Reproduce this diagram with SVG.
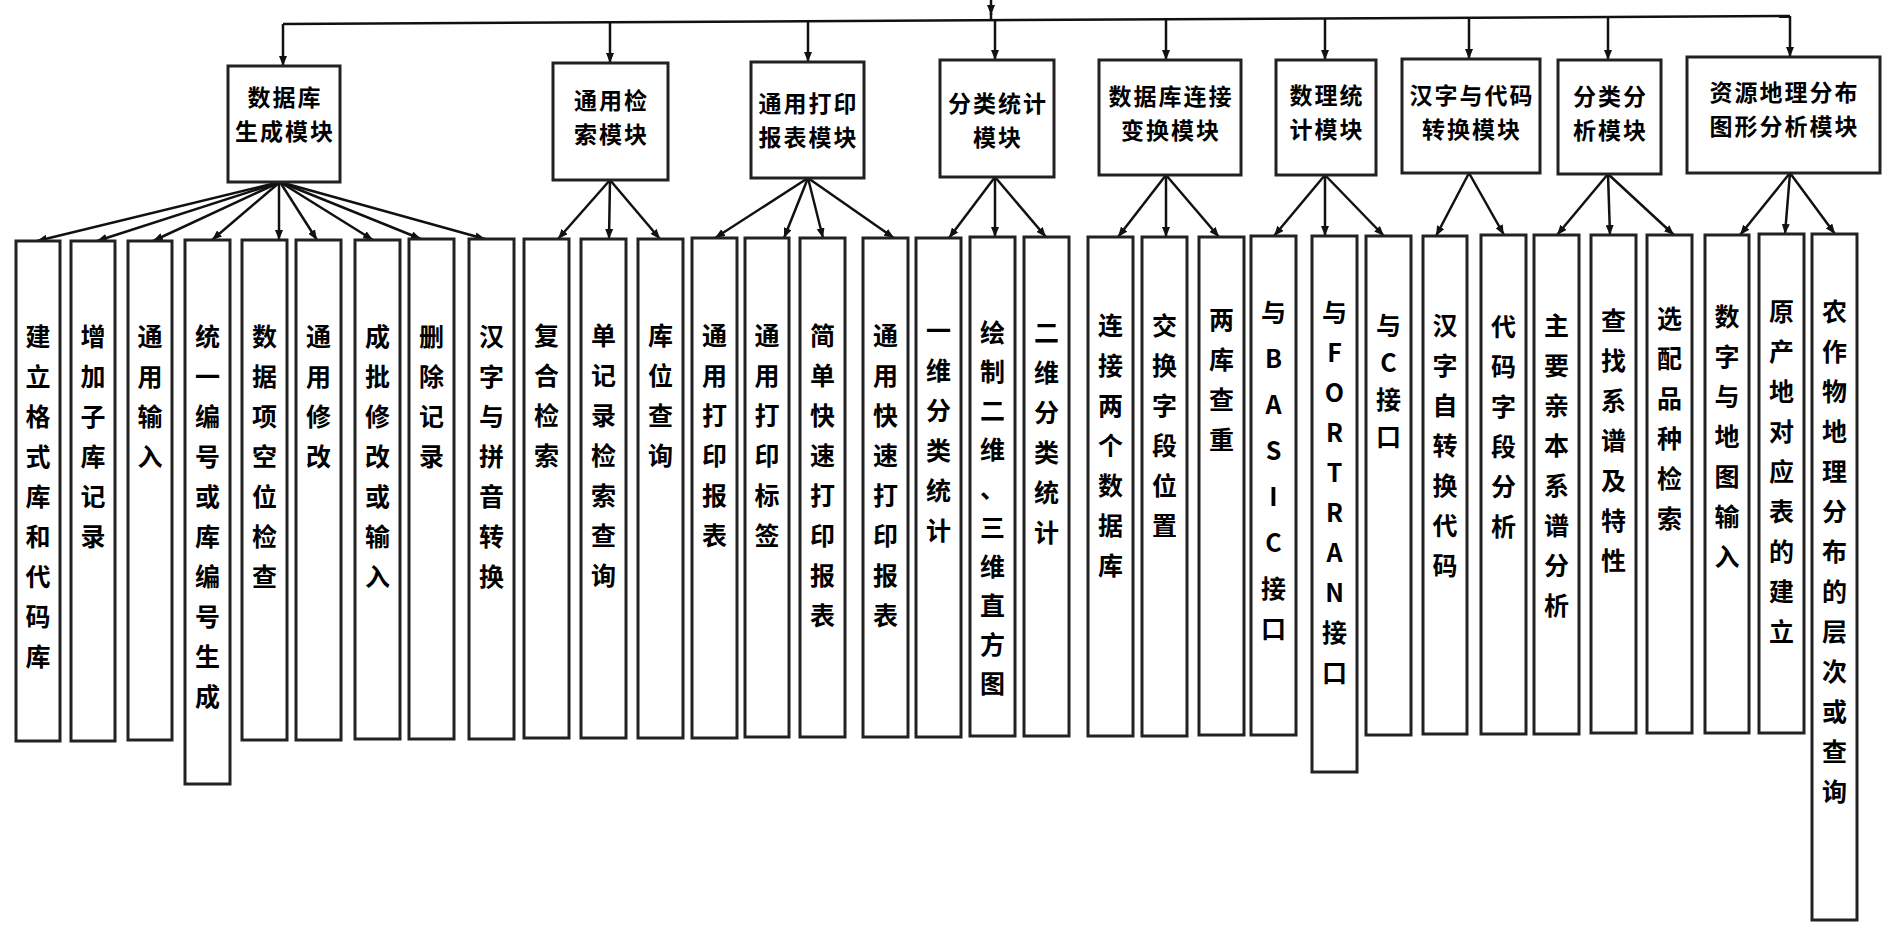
<svg xmlns="http://www.w3.org/2000/svg" width="1892" height="936" viewBox="0 0 1892 936">
<style>
.bg{fill:#fff}
.box{fill:#fff;stroke:#222;stroke-width:3}
.ln{stroke:#111;stroke-width:2.5;fill:none}
.ar{stroke:#111;stroke-width:2.5;fill:none;marker-end:url(#ah)}
.mt{font-family:"Noto Sans CJK SC","Noto Sans CJK JP",sans-serif;font-size:23px;font-weight:700;letter-spacing:2px;text-anchor:middle;fill:#000}
.lf{font-family:"Noto Sans CJK SC","Noto Sans CJK JP",sans-serif;font-size:25px;font-weight:700;text-anchor:middle;fill:#000}
</style>
<defs>
<marker id="ah" viewBox="0 0 10 8" refX="10" refY="4" markerWidth="10" markerHeight="8" orient="auto" markerUnits="userSpaceOnUse"><path d="M0,0 L10,4 L0,8 z" fill="#111"/></marker>
</defs>
<rect class="bg" x="0" y="0" width="1892" height="936"/>
<g id="connectors">
<path class="ar" d="M991,0 L991,15"/>
<path class="ln" d="M991,13 L991,21"/>
<path class="ln" d="M283,24 L1790,16"/>
<path class="ar" d="M283,24 L283,66"/>
<path class="ar" d="M610,22 L610,63"/>
<path class="ar" d="M808,21 L808,62"/>
<path class="ar" d="M995,20 L995,60"/>
<path class="ar" d="M1166,19 L1166,60"/>
<path class="ar" d="M1325,18 L1325,60"/>
<path class="ar" d="M1469,18 L1469,59"/>
<path class="ar" d="M1608,17 L1608,60"/>
<path class="ar" d="M1790,16 L1790,57"/>
<path class="ar" d="M280,182 L37,241"/>
<path class="ar" d="M280,182 L97,241"/>
<path class="ar" d="M280,182 L153,241"/>
<path class="ar" d="M280,182 L212,240"/>
<path class="ar" d="M279,182 L279,240"/>
<path class="ar" d="M280,182 L317,240"/>
<path class="ar" d="M280,182 L373,240"/>
<path class="ar" d="M280,182 L421,239"/>
<path class="ar" d="M280,182 L485,239"/>
<path class="ar" d="M610,180 L558,239"/>
<path class="ar" d="M610,180 L609,239"/>
<path class="ar" d="M610,180 L660,239"/>
<path class="ar" d="M808,178 L715,238"/>
<path class="ar" d="M808,178 L784,238"/>
<path class="ar" d="M808,178 L823,238"/>
<path class="ar" d="M808,178 L894,238"/>
<path class="ar" d="M995,177 L949,238"/>
<path class="ar" d="M995,177 L995,237"/>
<path class="ar" d="M995,177 L1046,237"/>
<path class="ar" d="M1166,175 L1118,237"/>
<path class="ar" d="M1166,175 L1166,237"/>
<path class="ar" d="M1166,175 L1219,237"/>
<path class="ar" d="M1325,175 L1274,236"/>
<path class="ar" d="M1325,175 L1325,236"/>
<path class="ar" d="M1325,175 L1384,236"/>
<path class="ar" d="M1469,173 L1436,236"/>
<path class="ar" d="M1469,173 L1504,235"/>
<path class="ar" d="M1608,174 L1557,235"/>
<path class="ar" d="M1608,174 L1610,235"/>
<path class="ar" d="M1608,174 L1674,235"/>
<path class="ar" d="M1790,173 L1740,235"/>
<path class="ar" d="M1790,173 L1785,234"/>
<path class="ar" d="M1790,173 L1835,234"/>
</g>
<g id="m1"><rect class="box" x="228" y="66" width="112" height="116"/><text class="mt" x="285" y="106"><tspan x="285">数据库</tspan><tspan x="285" dy="34">生成模块</tspan></text></g>
<g id="m2"><rect class="box" x="553" y="63" width="115" height="117"/><text class="mt" x="611.5" y="109"><tspan x="611.5">通用检</tspan><tspan x="611.5" dy="34">索模块</tspan></text></g>
<g id="m3"><rect class="box" x="751" y="62" width="113" height="116"/><text class="mt" x="808.5" y="112"><tspan x="808.5">通用打印</tspan><tspan x="808.5" dy="34">报表模块</tspan></text></g>
<g id="m4"><rect class="box" x="940" y="60" width="114" height="117"/><text class="mt" x="998" y="112"><tspan x="998">分类统计</tspan><tspan x="998" dy="34">模块</tspan></text></g>
<g id="m5"><rect class="box" x="1099" y="60" width="142" height="115"/><text class="mt" x="1171" y="105"><tspan x="1171">数据库连接</tspan><tspan x="1171" dy="34">变换模块</tspan></text></g>
<g id="m6"><rect class="box" x="1276" y="60" width="100" height="115"/><text class="mt" x="1327" y="104"><tspan x="1327">数理统</tspan><tspan x="1327" dy="34">计模块</tspan></text></g>
<g id="m7"><rect class="box" x="1402" y="59" width="138" height="114"/><text class="mt" x="1472" y="104"><tspan x="1472">汉字与代码</tspan><tspan x="1472" dy="34">转换模块</tspan></text></g>
<g id="m8"><rect class="box" x="1558" y="60" width="103" height="114"/><text class="mt" x="1610.5" y="105"><tspan x="1610.5">分类分</tspan><tspan x="1610.5" dy="34">析模块</tspan></text></g>
<g id="m9"><rect class="box" x="1687" y="57" width="193" height="116"/><text class="mt" x="1784.5" y="101"><tspan x="1784.5">资源地理分布</tspan><tspan x="1784.5" dy="34">图形分析模块</tspan></text></g>
<g id="l1"><rect class="box" x="16" y="241" width="44" height="500"/><text class="lf" x="38" y="346"><tspan x="38">建</tspan><tspan x="38" dy="40">立</tspan><tspan x="38" dy="40">格</tspan><tspan x="38" dy="40">式</tspan><tspan x="38" dy="40">库</tspan><tspan x="38" dy="40">和</tspan><tspan x="38" dy="40">代</tspan><tspan x="38" dy="40">码</tspan><tspan x="38" dy="40">库</tspan></text></g>
<g id="l2"><rect class="box" x="71" y="241" width="44" height="500"/><text class="lf" x="93" y="346"><tspan x="93">增</tspan><tspan x="93" dy="40">加</tspan><tspan x="93" dy="40">子</tspan><tspan x="93" dy="40">库</tspan><tspan x="93" dy="40">记</tspan><tspan x="93" dy="40">录</tspan></text></g>
<g id="l3"><rect class="box" x="128" y="241" width="44" height="499"/><text class="lf" x="150" y="346"><tspan x="150">通</tspan><tspan x="150" dy="40">用</tspan><tspan x="150" dy="40">输</tspan><tspan x="150" dy="40">入</tspan></text></g>
<g id="l4"><rect class="box" x="185" y="240" width="45" height="544"/><text class="lf" x="207.5" y="346"><tspan x="207.5">统</tspan><tspan x="207.5" dy="40">一</tspan><tspan x="207.5" dy="40">编</tspan><tspan x="207.5" dy="40">号</tspan><tspan x="207.5" dy="40">或</tspan><tspan x="207.5" dy="40">库</tspan><tspan x="207.5" dy="40">编</tspan><tspan x="207.5" dy="40">号</tspan><tspan x="207.5" dy="40">生</tspan><tspan x="207.5" dy="40">成</tspan></text></g>
<g id="l5"><rect class="box" x="242" y="240" width="45" height="500"/><text class="lf" x="264.5" y="346"><tspan x="264.5">数</tspan><tspan x="264.5" dy="40">据</tspan><tspan x="264.5" dy="40">项</tspan><tspan x="264.5" dy="40">空</tspan><tspan x="264.5" dy="40">位</tspan><tspan x="264.5" dy="40">检</tspan><tspan x="264.5" dy="40">查</tspan></text></g>
<g id="l6"><rect class="box" x="296" y="240" width="45" height="500"/><text class="lf" x="318.5" y="346"><tspan x="318.5">通</tspan><tspan x="318.5" dy="40">用</tspan><tspan x="318.5" dy="40">修</tspan><tspan x="318.5" dy="40">改</tspan></text></g>
<g id="l7"><rect class="box" x="355" y="240" width="45" height="499"/><text class="lf" x="377.5" y="346"><tspan x="377.5">成</tspan><tspan x="377.5" dy="40">批</tspan><tspan x="377.5" dy="40">修</tspan><tspan x="377.5" dy="40">改</tspan><tspan x="377.5" dy="40">或</tspan><tspan x="377.5" dy="40">输</tspan><tspan x="377.5" dy="40">入</tspan></text></g>
<g id="l8"><rect class="box" x="409" y="239" width="45" height="500"/><text class="lf" x="431.5" y="346"><tspan x="431.5">删</tspan><tspan x="431.5" dy="40">除</tspan><tspan x="431.5" dy="40">记</tspan><tspan x="431.5" dy="40">录</tspan></text></g>
<g id="l9"><rect class="box" x="469" y="239" width="45" height="500"/><text class="lf" x="491.5" y="346"><tspan x="491.5">汉</tspan><tspan x="491.5" dy="40">字</tspan><tspan x="491.5" dy="40">与</tspan><tspan x="491.5" dy="40">拼</tspan><tspan x="491.5" dy="40">音</tspan><tspan x="491.5" dy="40">转</tspan><tspan x="491.5" dy="40">换</tspan></text></g>
<g id="l10"><rect class="box" x="524" y="239" width="45" height="499"/><text class="lf" x="546.5" y="345"><tspan x="546.5">复</tspan><tspan x="546.5" dy="40">合</tspan><tspan x="546.5" dy="40">检</tspan><tspan x="546.5" dy="40">索</tspan></text></g>
<g id="l11"><rect class="box" x="581" y="239" width="45" height="499"/><text class="lf" x="603.5" y="345"><tspan x="603.5">单</tspan><tspan x="603.5" dy="40">记</tspan><tspan x="603.5" dy="40">录</tspan><tspan x="603.5" dy="40">检</tspan><tspan x="603.5" dy="40">索</tspan><tspan x="603.5" dy="40">查</tspan><tspan x="603.5" dy="40">询</tspan></text></g>
<g id="l12"><rect class="box" x="638" y="239" width="45" height="499"/><text class="lf" x="660.5" y="345"><tspan x="660.5">库</tspan><tspan x="660.5" dy="40">位</tspan><tspan x="660.5" dy="40">查</tspan><tspan x="660.5" dy="40">询</tspan></text></g>
<g id="l13"><rect class="box" x="692" y="238" width="45" height="500"/><text class="lf" x="714.5" y="345"><tspan x="714.5">通</tspan><tspan x="714.5" dy="40">用</tspan><tspan x="714.5" dy="40">打</tspan><tspan x="714.5" dy="40">印</tspan><tspan x="714.5" dy="40">报</tspan><tspan x="714.5" dy="40">表</tspan></text></g>
<g id="l14"><rect class="box" x="745" y="238" width="44" height="499"/><text class="lf" x="767" y="345"><tspan x="767">通</tspan><tspan x="767" dy="40">用</tspan><tspan x="767" dy="40">打</tspan><tspan x="767" dy="40">印</tspan><tspan x="767" dy="40">标</tspan><tspan x="767" dy="40">签</tspan></text></g>
<g id="l15"><rect class="box" x="800" y="238" width="45" height="499"/><text class="lf" x="822.5" y="345"><tspan x="822.5">简</tspan><tspan x="822.5" dy="40">单</tspan><tspan x="822.5" dy="40">快</tspan><tspan x="822.5" dy="40">速</tspan><tspan x="822.5" dy="40">打</tspan><tspan x="822.5" dy="40">印</tspan><tspan x="822.5" dy="40">报</tspan><tspan x="822.5" dy="40">表</tspan></text></g>
<g id="l16"><rect class="box" x="863" y="238" width="45" height="499"/><text class="lf" x="885.5" y="345"><tspan x="885.5">通</tspan><tspan x="885.5" dy="40">用</tspan><tspan x="885.5" dy="40">快</tspan><tspan x="885.5" dy="40">速</tspan><tspan x="885.5" dy="40">打</tspan><tspan x="885.5" dy="40">印</tspan><tspan x="885.5" dy="40">报</tspan><tspan x="885.5" dy="40">表</tspan></text></g>
<g id="l17"><rect class="box" x="916" y="238" width="45" height="499"/><text class="lf" x="938.5" y="340"><tspan x="938.5">一</tspan><tspan x="938.5" dy="40">维</tspan><tspan x="938.5" dy="40">分</tspan><tspan x="938.5" dy="40">类</tspan><tspan x="938.5" dy="40">统</tspan><tspan x="938.5" dy="40">计</tspan></text></g>
<g id="l18"><rect class="box" x="970" y="237" width="45" height="499"/><text class="lf" x="992.5" y="342"><tspan x="992.5">绘</tspan><tspan x="992.5" dy="39">制</tspan><tspan x="992.5" dy="39">二</tspan><tspan x="992.5" dy="39">维</tspan><tspan x="992.5" dy="39">、</tspan><tspan x="992.5" dy="39">三</tspan><tspan x="992.5" dy="39">维</tspan><tspan x="992.5" dy="39">直</tspan><tspan x="992.5" dy="39">方</tspan><tspan x="992.5" dy="39">图</tspan></text></g>
<g id="l19"><rect class="box" x="1024" y="237" width="45" height="499"/><text class="lf" x="1046.5" y="342"><tspan x="1046.5">二</tspan><tspan x="1046.5" dy="40">维</tspan><tspan x="1046.5" dy="40">分</tspan><tspan x="1046.5" dy="40">类</tspan><tspan x="1046.5" dy="40">统</tspan><tspan x="1046.5" dy="40">计</tspan></text></g>
<g id="l20"><rect class="box" x="1088" y="237" width="45" height="499"/><text class="lf" x="1110.5" y="335"><tspan x="1110.5">连</tspan><tspan x="1110.5" dy="40">接</tspan><tspan x="1110.5" dy="40">两</tspan><tspan x="1110.5" dy="40">个</tspan><tspan x="1110.5" dy="40">数</tspan><tspan x="1110.5" dy="40">据</tspan><tspan x="1110.5" dy="40">库</tspan></text></g>
<g id="l21"><rect class="box" x="1142" y="237" width="45" height="499"/><text class="lf" x="1164.5" y="335"><tspan x="1164.5">交</tspan><tspan x="1164.5" dy="40">换</tspan><tspan x="1164.5" dy="40">字</tspan><tspan x="1164.5" dy="40">段</tspan><tspan x="1164.5" dy="40">位</tspan><tspan x="1164.5" dy="40">置</tspan></text></g>
<g id="l22"><rect class="box" x="1199" y="237" width="45" height="498"/><text class="lf" x="1221.5" y="329"><tspan x="1221.5">两</tspan><tspan x="1221.5" dy="40">库</tspan><tspan x="1221.5" dy="40">查</tspan><tspan x="1221.5" dy="40">重</tspan></text></g>
<g id="l23"><rect class="box" x="1251" y="236" width="45" height="499"/><text class="lf" x="1273.5" y="322"><tspan x="1273.5">与</tspan><tspan x="1273.5" dy="46">B</tspan><tspan x="1273.5" dy="46">A</tspan><tspan x="1273.5" dy="46">S</tspan><tspan x="1273.5" dy="46">I</tspan><tspan x="1273.5" dy="46">C</tspan><tspan x="1273.5" dy="46">接</tspan><tspan x="1273.5" dy="40">口</tspan></text></g>
<g id="l24"><rect class="box" x="1312" y="236" width="45" height="536"/><text class="lf" x="1334.5" y="322"><tspan x="1334.5">与</tspan><tspan x="1334.5" dy="40">F</tspan><tspan x="1334.5" dy="40">O</tspan><tspan x="1334.5" dy="40">R</tspan><tspan x="1334.5" dy="40">T</tspan><tspan x="1334.5" dy="40">R</tspan><tspan x="1334.5" dy="40">A</tspan><tspan x="1334.5" dy="40">N</tspan><tspan x="1334.5" dy="40">接</tspan><tspan x="1334.5" dy="40">口</tspan></text></g>
<g id="l25"><rect class="box" x="1366" y="236" width="45" height="499"/><text class="lf" x="1388.5" y="335"><tspan x="1388.5">与</tspan><tspan x="1388.5" dy="37">C</tspan><tspan x="1388.5" dy="37">接</tspan><tspan x="1388.5" dy="37">口</tspan></text></g>
<g id="l26"><rect class="box" x="1423" y="236" width="44" height="498"/><text class="lf" x="1445" y="335"><tspan x="1445">汉</tspan><tspan x="1445" dy="40">字</tspan><tspan x="1445" dy="40">自</tspan><tspan x="1445" dy="40">转</tspan><tspan x="1445" dy="40">换</tspan><tspan x="1445" dy="40">代</tspan><tspan x="1445" dy="40">码</tspan></text></g>
<g id="l27"><rect class="box" x="1481" y="235" width="45" height="499"/><text class="lf" x="1503.5" y="336"><tspan x="1503.5">代</tspan><tspan x="1503.5" dy="40">码</tspan><tspan x="1503.5" dy="40">字</tspan><tspan x="1503.5" dy="40">段</tspan><tspan x="1503.5" dy="40">分</tspan><tspan x="1503.5" dy="40">析</tspan></text></g>
<g id="l28"><rect class="box" x="1534" y="235" width="45" height="499"/><text class="lf" x="1556.5" y="335"><tspan x="1556.5">主</tspan><tspan x="1556.5" dy="40">要</tspan><tspan x="1556.5" dy="40">亲</tspan><tspan x="1556.5" dy="40">本</tspan><tspan x="1556.5" dy="40">系</tspan><tspan x="1556.5" dy="40">谱</tspan><tspan x="1556.5" dy="40">分</tspan><tspan x="1556.5" dy="40">析</tspan></text></g>
<g id="l29"><rect class="box" x="1591" y="235" width="45" height="498"/><text class="lf" x="1613.5" y="330"><tspan x="1613.5">查</tspan><tspan x="1613.5" dy="40">找</tspan><tspan x="1613.5" dy="40">系</tspan><tspan x="1613.5" dy="40">谱</tspan><tspan x="1613.5" dy="40">及</tspan><tspan x="1613.5" dy="40">特</tspan><tspan x="1613.5" dy="40">性</tspan></text></g>
<g id="l30"><rect class="box" x="1647" y="235" width="45" height="498"/><text class="lf" x="1669.5" y="328"><tspan x="1669.5">选</tspan><tspan x="1669.5" dy="40">配</tspan><tspan x="1669.5" dy="40">品</tspan><tspan x="1669.5" dy="40">种</tspan><tspan x="1669.5" dy="40">检</tspan><tspan x="1669.5" dy="40">索</tspan></text></g>
<g id="l31"><rect class="box" x="1705" y="235" width="44" height="498"/><text class="lf" x="1727" y="326"><tspan x="1727">数</tspan><tspan x="1727" dy="40">字</tspan><tspan x="1727" dy="40">与</tspan><tspan x="1727" dy="40">地</tspan><tspan x="1727" dy="40">图</tspan><tspan x="1727" dy="40">输</tspan><tspan x="1727" dy="40">入</tspan></text></g>
<g id="l32"><rect class="box" x="1759" y="234" width="45" height="499"/><text class="lf" x="1781.5" y="321"><tspan x="1781.5">原</tspan><tspan x="1781.5" dy="40">产</tspan><tspan x="1781.5" dy="40">地</tspan><tspan x="1781.5" dy="40">对</tspan><tspan x="1781.5" dy="40">应</tspan><tspan x="1781.5" dy="40">表</tspan><tspan x="1781.5" dy="40">的</tspan><tspan x="1781.5" dy="40">建</tspan><tspan x="1781.5" dy="40">立</tspan></text></g>
<g id="l33"><rect class="box" x="1812" y="234" width="45" height="686"/><text class="lf" x="1834.5" y="321"><tspan x="1834.5">农</tspan><tspan x="1834.5" dy="40">作</tspan><tspan x="1834.5" dy="40">物</tspan><tspan x="1834.5" dy="40">地</tspan><tspan x="1834.5" dy="40">理</tspan><tspan x="1834.5" dy="40">分</tspan><tspan x="1834.5" dy="40">布</tspan><tspan x="1834.5" dy="40">的</tspan><tspan x="1834.5" dy="40">层</tspan><tspan x="1834.5" dy="40">次</tspan><tspan x="1834.5" dy="40">或</tspan><tspan x="1834.5" dy="40">查</tspan><tspan x="1834.5" dy="40">询</tspan></text></g>
</svg>
